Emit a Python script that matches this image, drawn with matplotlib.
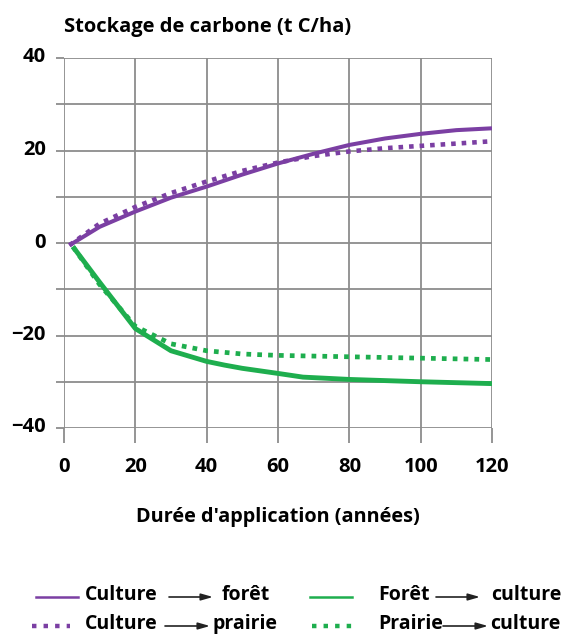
import matplotlib
matplotlib.use("Agg")
import matplotlib.pyplot as plt
import matplotlib.transforms as mtransforms
from matplotlib.lines import Line2D

plt.rcParams['font.family'] = ['Open Sans', 'DejaVu Sans']
plt.rcParams['font.weight'] = 'bold'

# Data (years, t C/ha)
cf_x = [1.5, 10, 20, 30, 40, 50, 60, 70, 80, 90, 100, 110, 120]
cf_y = [-0.5, 3.5, 6.8, 9.8, 12.2, 14.8, 17.2, 19.3, 21.2, 22.6, 23.6, 24.4, 24.8]
cp_x = [1.5, 10, 20, 30, 40, 50, 60, 70, 80, 90, 100, 110, 120]
cp_y = [-0.5, 4.2, 7.8, 10.8, 13.3, 15.6, 17.4, 18.8, 19.8, 20.5, 21.0, 21.5, 22.0]
fc_x = [2.5, 10, 20, 30, 40, 45, 50, 60, 67, 80, 100, 120]
fc_y = [-0.8, -8.5, -18.5, -23.3, -25.6, -26.4, -27.1, -28.2, -29.0, -29.5, -30.0, -30.4]
pc_x = [2.5, 10, 20, 30, 40, 50, 60, 80, 100, 120]
pc_y = [-0.8, -9.0, -18.0, -21.8, -23.3, -24.0, -24.3, -24.6, -24.9, -25.2]

title = "Stockage de carbone (t C/ha)"
xlabel = "Durée d'application (années)"
xticks = [0, 20, 40, 60, 80, 100, 120]
yticks = [-40, -20, 0, 20, 40]

PURPLE = '#7B3FA3'
GREEN = '#1EAE4E'
GRID = '#8C8C8C'

fig = plt.figure(figsize=(5.63, 6.37), dpi=100)
ax = fig.add_axes([64/563, 1-428/637, (492-64)/563, (428-58)/637])

dot = (0, (1, 1.3))
ax.plot(cf_x, cf_y, color=PURPLE, lw=2.9, solid_capstyle='butt', zorder=3)
ax.plot(cp_x, cp_y, color=PURPLE, lw=3.3, linestyle=dot, dash_capstyle='butt', zorder=3)
ax.plot(fc_x, fc_y, color=GREEN, lw=3.5, solid_capstyle='butt', zorder=3)
ax.plot(pc_x, pc_y, color=GREEN, lw=3.4, linestyle=dot, dash_capstyle='butt', zorder=3)

ax.set_xlim(0, 120)
ax.set_ylim(-40, 40)
ax.set_xticks(xticks)
ax.set_yticks(yticks)
ax.set_yticks([-30, -10, 10, 30], minor=True)
ax.grid(True, which='both', color=GRID, lw=1.3)
ax.set_axisbelow(True)
for s in ax.spines.values():
    s.set_visible(False)
ax.tick_params(axis='y', which='both', length=6, width=1.3, color=GRID, pad=7, labelsize=14.5)
ax.tick_params(axis='x', length=11, width=1.3, color=GRID, pad=10, labelsize=14.5)
shift = mtransforms.ScaledTranslation(0, 3/100, fig.dpi_scale_trans)
for lab in ax.get_yticklabels():
    lab.set_transform(lab.get_transform() + shift)
for lab in ax.get_xticklabels() + ax.get_yticklabels():
    lab.set_fontweight('bold')

fig.text(64/563, 1-27/637, title, fontsize=14.5, fontweight='bold', ha='left', va='center')
fig.text(278/563, 1-517/637, xlabel, fontsize=14.3, fontweight='bold', ha='center', va='center')

# Legend (drawn manually)
def fx(p): return p/563
def fy(p): return 1-p/637

rows = [
    (595, PURPLE, '-', 'Culture', 'forêt', 36, 78, 85, 169, 213, 222),
    (624, PURPLE, ':', 'Culture', 'prairie', 32, 70, 85, 165, 210, 213),
    (595, GREEN, '-', 'Forêt', 'culture', 310, 352, 378, 436, 480, 491),
    (624, GREEN, ':', 'Prairie', 'culture', 312, 352, 378, 443, 488, 490),
]
for (y, col, ls, a, b, l0, l1, tx, ar0, ar1, tb) in rows:
    if ls == '-':
        fig.add_artist(Line2D([fx(l0), fx(l1)], [fy(y+2), fy(y+2)], color=col, lw=1.8,
                              transform=fig.transFigure))
    else:
        fig.add_artist(Line2D([fx(l0), fx(l1)], [fy(y+2), fy(y+2)], color=col, lw=3.2,
                              linestyle=(0, (1, 1.6)), dash_capstyle='butt',
                              transform=fig.transFigure))
    fig.text(fx(tx), fy(y), a, fontsize=14, fontweight='bold', ha='left', va='center')
    fig.text(fx(tb), fy(y), b, fontsize=14, fontweight='bold', ha='left', va='center')
    ax.annotate('', xy=(fx(ar1), fy(y+2)), xytext=(fx(ar0), fy(y+2)),
                xycoords='figure fraction', textcoords='figure fraction',
                arrowprops=dict(arrowstyle='-|>,head_length=0.7,head_width=0.2',
                                color='#222222', lw=1.2, shrinkA=0, shrinkB=0),
                annotation_clip=False)

fig.savefig('out.png', dpi=100)
